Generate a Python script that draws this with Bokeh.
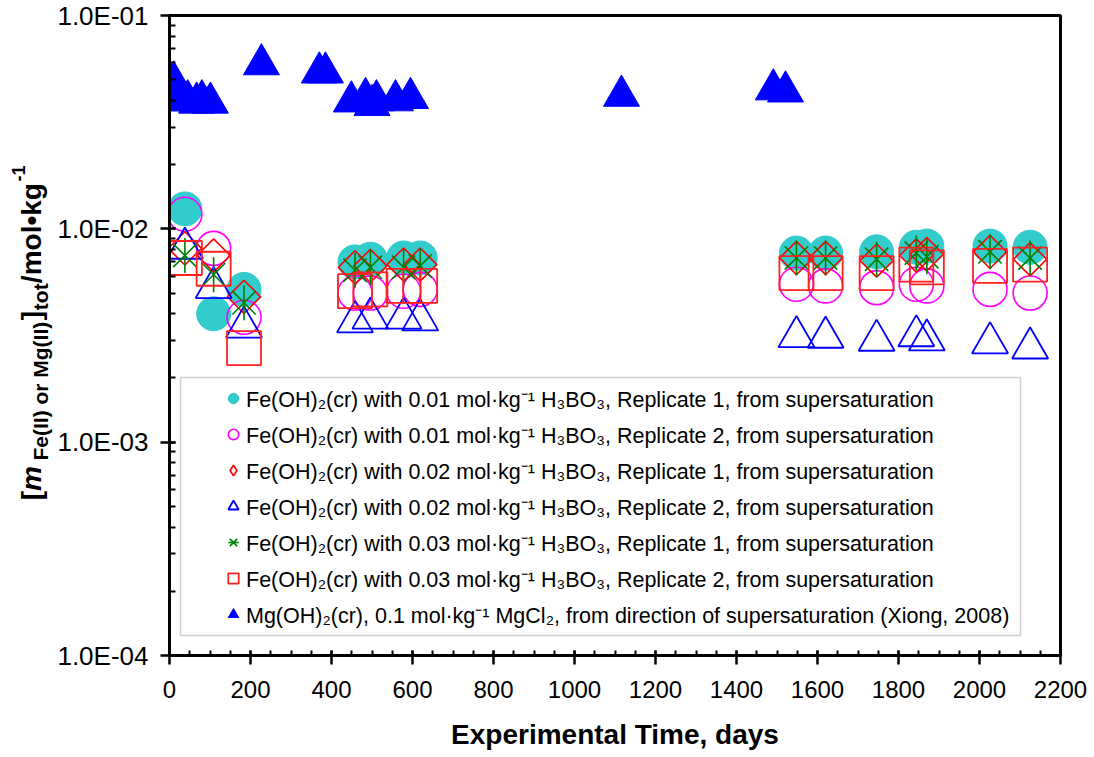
import math
from bokeh.plotting import figure
from bokeh.layouts import row
from bokeh.embed import file_html
from bokeh.resources import INLINE
from bokeh.models import (ColumnDataSource, Legend, LegendItem, BoxAnnotation, Range1d,
                          SingleIntervalTicker, LogTicker, CustomJSTickFormatter)
from bokeh.core.properties import value

# ---------------- data ----------------
fe_days = [38, 109, 184, 458, 496, 578, 619, 1548, 1620, 1746, 1844, 1870, 2026, 2125]
fe_001_rep1 = [0.0124, 0.0040, 0.0052, 0.0070, 0.0072, 0.0073, 0.0073,
               0.0077, 0.0077, 0.0078, 0.0082, 0.0083, 0.0083, 0.0082]
fe_001_rep2 = [0.0117, 0.0081, 0.00385, 0.0050, 0.0050, 0.0051, 0.0052,
               0.0055, 0.0054, 0.0053, 0.0055, 0.0054, 0.0052, 0.0050]
fe_002_rep1 = [0.0081, 0.0075, 0.0048, 0.0066, 0.0067, 0.0068, 0.0068,
               0.0073, 0.0073, 0.0071, 0.0075, 0.0076, 0.0078, 0.0072]
fe_002_rep2 = [0.0081, 0.0053, 0.00346, 0.00366, 0.00381, 0.00381, 0.00374,
               0.00312, 0.00310, 0.00300, 0.00315, 0.00301, 0.00292, 0.00276]
fe_003_rep1 = [0.0075, 0.0061, 0.0045, 0.0064, 0.0066, 0.0066, 0.0067,
               0.0073, 0.0073, 0.0072, 0.0077, 0.0074, 0.0078, 0.0073]
fe_003_rep2 = [0.0073, 0.0065, 0.00276, 0.0051, 0.0052, 0.0054, 0.0054,
               0.0062, 0.0062, 0.0062, 0.0068, 0.0066, 0.0067, 0.0068]

mg_days = [0, 10, 25, 45, 67, 80, 101, 227, 370, 385, 449, 484, 500, 511, 558, 595, 1116, 1491, 1521]
mg_vals = [0.046, 0.049, 0.040, 0.040, 0.039, 0.040, 0.039, 0.059, 0.054, 0.054,
           0.0395, 0.041, 0.038, 0.040, 0.040, 0.041, 0.042, 0.045, 0.044]

legend_labels = [
    "Fe(OH)\u2082(cr) with 0.01 mol\u00b7kg\u207b\u00b9 H\u2083BO\u2083, Replicate 1, from supersaturation",
    "Fe(OH)\u2082(cr) with 0.01 mol\u00b7kg\u207b\u00b9 H\u2083BO\u2083, Replicate 2, from supersaturation",
    "Fe(OH)\u2082(cr) with 0.02 mol\u00b7kg\u207b\u00b9 H\u2083BO\u2083, Replicate 1, from supersaturation",
    "Fe(OH)\u2082(cr) with 0.02 mol\u00b7kg\u207b\u00b9 H\u2083BO\u2083, Replicate 2, from supersaturation",
    "Fe(OH)\u2082(cr) with 0.03 mol\u00b7kg\u207b\u00b9 H\u2083BO\u2083, Replicate 1, from supersaturation",
    "Fe(OH)\u2082(cr) with 0.03 mol\u00b7kg\u207b\u00b9 H\u2083BO\u2083, Replicate 2, from supersaturation",
    "Mg(OH)\u2082(cr), 0.1 mol\u00b7kg\u207b\u00b9 MgCl\u2082, from direction of supersaturation (Xiong, 2008)",
]
x_label = "Experimental Time, days"
# y-axis title pieces: [m_{Fe(II) or Mg(II)}]_{tot}/mol•kg^{-1}
ylab_main = ["[", "]", "/mol\u2022kg"]
ylab_italic = ["m"]
ylab_sub = ["Fe(II) or Mg(II)", "tot"]
ylab_sup = ["-1"]

FONT = "Liberation Sans, Arial, sans-serif"

# ---------------- main figure ----------------
p = figure(frame_width=891, frame_height=640,
           min_border_left=112, min_border_right=29, min_border_top=15, min_border_bottom=80,
           x_range=(0, 2200), y_range=(1e-4, 1e-1), y_axis_type="log",
           output_backend="svg", toolbar_location=None)
p.xgrid.visible = False
p.ygrid.visible = False
p.outline_line_color = "black"
p.outline_line_width = 3
p.background_fill_color = "white"
p.border_fill_color = "white"

xa = p.xaxis[0]
xa.ticker = SingleIntervalTicker(interval=200, num_minor_ticks=4)
xa.axis_line_width = 3
xa.major_tick_line_width = 2.5
xa.minor_tick_line_width = 2
xa.major_tick_in = 5
xa.major_tick_out = 9
xa.minor_tick_in = 5
xa.minor_tick_out = 0
xa.major_label_text_font = FONT
xa.major_label_text_font_size = "24px"
xa.major_label_text_color = "black"
xa.major_label_standoff = 16
xa.axis_label = x_label
xa.axis_label_text_font = FONT
xa.axis_label_text_font_size = "28px"
xa.axis_label_text_font_style = "bold"
xa.axis_label_text_color = "black"
xa.axis_label_standoff = 18

ya = p.yaxis[0]
ya.ticker = LogTicker(desired_num_ticks=4, num_minor_ticks=10)
ya.formatter = CustomJSTickFormatter(code="""
const e = Math.round(Math.log10(tick));
const m = tick / Math.pow(10, e);
const s = e < 0 ? "-" : "+";
return m.toFixed(1) + "E" + s + String(Math.abs(e)).padStart(2, "0");
""")
ya.axis_line_width = 3
ya.major_tick_line_width = 2.5
ya.minor_tick_line_width = 2
ya.major_tick_in = 6
ya.major_tick_out = 9
ya.minor_tick_in = 6
ya.minor_tick_out = 0
ya.major_label_text_font = FONT
ya.major_label_text_font_size = "26px"
ya.major_label_text_color = "black"
ya.major_label_standoff = 12

# ---------------- glyphs ----------------
src = ColumnDataSource(dict(x=fe_days, a=fe_001_rep1, b=fe_001_rep2, c=fe_002_rep1,
                            d=fe_002_rep2, e=fe_003_rep1, f=fe_003_rep2))
msrc = ColumnDataSource(dict(x=mg_days, y=mg_vals))

r1 = p.scatter("x", "a", source=src, marker="circle", size=34,
               fill_color="#33CCCC", line_color="#33CCCC", line_width=1)
r2 = p.scatter("x", "b", source=src, marker="circle", size=34,
               fill_color=None, line_color="#FF00FF", line_width=1.6)
r3 = p.scatter("x", "c", source=src, marker="square", angle=math.pi / 4, size=23.5,
               fill_color=None, line_color="#FF0000", line_width=1.6)
r4 = p.scatter("x", "d", source=src, marker="triangle", size=36,
               fill_color=None, line_color="#0000FF", line_width=1.8)
r5a = p.scatter("x", "e", source=src, marker="x", size=33,
                line_color="#008000", line_width=1.6)
r5b = p.scatter("x", "e", source=src, marker="dash", angle=math.pi / 2, size=35,
                line_color="#008000", line_width=1.6)
r6 = p.scatter("x", "f", source=src, marker="square", size=34,
               fill_color=None, line_color="#FF2020", line_width=1.8)
r7 = p.scatter("x", "y", source=msrc, marker="triangle", size=36,
               fill_color="#0000FF", line_color="#0000FF", line_width=1)
# legend-only glyph for the diamond symbol (no points)
r3_key = p.scatter(x=[float("nan")], y=[float("nan")], marker="diamond", size=20,
                   fill_color=None, line_color="#FF0000", line_width=1.6)

# ---------------- legend ----------------
box = BoxAnnotation(left=11, right=851, bottom=20, top=278,
                    left_units="screen", right_units="screen",
                    bottom_units="screen", top_units="screen",
                    fill_color=None, fill_alpha=0, line_color="#666666", line_width=1.5)
p.add_layout(box)

items = [LegendItem(label=legend_labels[0], renderers=[r1]),
         LegendItem(label=legend_labels[1], renderers=[r2]),
         LegendItem(label=legend_labels[2], renderers=[r3_key]),
         LegendItem(label=legend_labels[3], renderers=[r4]),
         LegendItem(label=legend_labels[4], renderers=[r5a, r5b]),
         LegendItem(label=legend_labels[5], renderers=[r6]),
         LegendItem(label=legend_labels[6], renderers=[r7])]
legend = Legend(items=items, location=(51, 25), padding=0, margin=0,
                glyph_width=26, glyph_height=32, label_height=32, spacing=4,
                label_standoff=0, border_line_alpha=0, background_fill_alpha=0,
                label_text_font=FONT, label_text_font_size="21.5px", label_text_color="black")
p.add_layout(legend)

# ---------------- left strip carrying the composed y-axis title ----------------
# (its frame is aligned with the main frame, so y = -page_y maps straight onto page rows)
L = figure(width=54, height=748, x_range=Range1d(0, 54), y_range=Range1d(-655, -15),
           min_border=0, output_backend="svg", toolbar_location=None)
L.axis.visible = False
L.grid.visible = False
L.outline_line_color = None
L.background_fill_color = "white"
L.border_fill_color = "white"

common = dict(angle=math.pi / 2, text_align="center", text_baseline="middle",
              text_color="black", text_font=value(FONT))
L.text(x=[31, 31, 31], y=[-498, -317, -234], text=ylab_main,
       text_font_size="28px", text_font_style="bold", **common)
L.text(x=[31], y=[-481], text=ylab_italic,
       text_font_size="28px", text_font_style="bold italic", **common)
L.text(x=[40, 40], y=[-393, -298], text=ylab_sub,
       text_font_size="21px", text_font_style="bold", **common)
L.text(x=[18], y=[-174], text=ylab_sup,
       text_font_size="18px", text_font_style="bold", **common)

layout = row(L, p)
open("out.html", "w").write(file_html(layout, INLINE))
